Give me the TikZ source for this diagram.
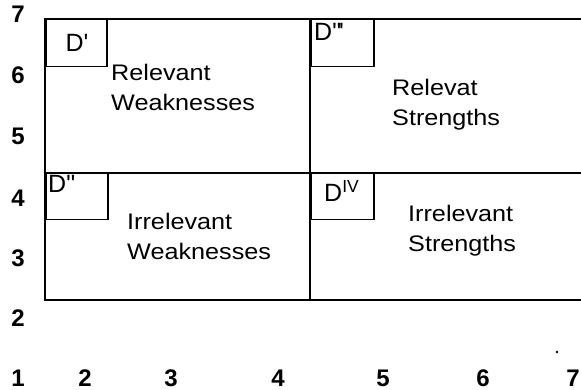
\documentclass[tikz,border=0pt]{standalone}
\usepackage{fontspec}
\setmainfont{Liberation Sans}
\newfontfamily\lbl[FakeStretch=1.12]{Liberation Sans}
\begin{document}
\begin{tikzpicture}[x=1pt,y=-1pt,
  frame/.style={draw=black,line width=1.8pt},
  tagbox/.style={draw=black,line width=1.5pt,minimum width=61pt,minimum height=47pt,inner sep=0pt,anchor=north west},
  quad/.style={font=\lbl\fontsize{22.5}{30}\selectfont,align=left,anchor=north west,inner sep=0pt},
  tagtxt/.style={font=\fontsize{25}{25}\selectfont,inner sep=0pt},
  axis/.style={font=\bfseries\fontsize{24}{24}\selectfont,inner sep=0pt}]
\useasboundingbox (0,0) rectangle (581,390);
\begin{scope}
\clip (0,0) rectangle (581,390);
% quadrant frames
\coordinate (TL) at (45,19);
\coordinate (ML) at (45,173);
\coordinate (BL) at (45,300);
\coordinate (TM) at (310,19);
\coordinate (BM) at (310,300);
\coordinate (TR) at (590,19);
\coordinate (MR) at (590,173);
\coordinate (BR) at (590,300);
\draw[frame] (TR) -- (TL) -- (BL) -- (BR);
\draw[frame] (ML) -- (MR);
\draw[frame] (TM) -- (BM);
% tag boxes
\node[tagbox] (b1) at (45,19) {};
\node[tagbox,minimum height=46pt,minimum width=62pt] (b2) at (45,173) {};
\node[tagbox,minimum width=63pt] (b3) at (310,19) {};
\node[tagbox,minimum width=63pt,minimum height=46pt] (b4) at (310,173) {};
\end{scope}
\node[tagtxt] (t1) at (77,43) {D\textquotesingle};
\node[tagtxt,anchor=north west] (t2) at (48,175) {D\textquotedbl};
\node[tagtxt,anchor=north west] (t3) at (314,23) {D\textquotedbl\kern-2pt\textquotesingle};
\node[tagtxt,anchor=north west] (t4) at (324,180) {D\textsuperscript{IV}};
% quadrant texts
\node[quad] (q1) at (111,64) {Relevant\\Weaknesses};
\node[quad] (q2) at (392,79) {Relevat\\Strengths};
\node[quad] (q3) at (127,213) {Irrelevant\\Weaknesses};
\node[quad] (q4) at (408,205) {Irrelevant\\Strengths};
% axis numbers
\node[axis] (y7) at (18,14) {7};
\node[axis] (y6) at (18,75) {6};
\node[axis] (y5) at (18,136) {5};
\node[axis] (y4) at (18,198) {4};
\node[axis] (y3) at (18,258) {3};
\node[axis] (y2) at (18,318) {2};
\node[axis] (x1) at (18,378) {1};
\node[axis] (x2) at (85,378) {2};
\node[axis] (x3) at (171,378) {3};
\node[axis] (x4) at (278,378) {4};
\node[axis] (x5) at (383,378) {5};
\node[axis] (x6) at (483,378) {6};
\node[axis] (x7) at (573,378) {7};
\fill (557,352) circle (1.3pt);
\end{tikzpicture}
\end{document}
